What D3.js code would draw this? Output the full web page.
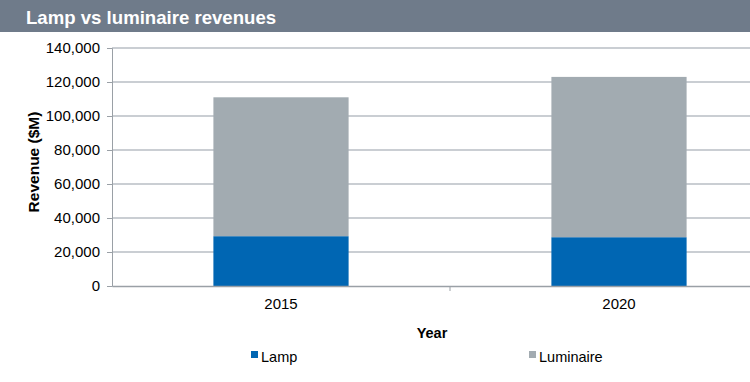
<!DOCTYPE html>
<html><head><meta charset="utf-8">
<script src="https://cdn.jsdelivr.net/npm/d3@7"></script>
<style>
html,body{margin:0;padding:0;background:#fff;}
svg{display:block;font-family:"Liberation Sans",Arial,sans-serif;}
</style></head>
<body><svg id="chart" width="750" height="382"></svg>
<script>
const categories = ["2015", "2020"];
const seriesNames = ["Lamp", "Luminaire"];
const lampValues = [29300, 28700];
const luminaireValues = [81700, 94300];
const yTicks = [0, 20000, 40000, 60000, 80000, 100000, 120000, 140000];
const title = "Lamp vs luminaire revenues";
const colors = ["#0066b3", "#a2abb1"];

(function(){
const svg = d3.select("#chart");
const W = 750, H = 382;
const FF = "'Liberation Sans', Arial, sans-serif";

// header band
svg.append("rect").attr("x",0).attr("y",0).attr("width",W).attr("height",32).attr("fill","#6f7b8a");
svg.append("text").attr("x",26).attr("y",24).attr("fill","#fff").attr("font-family",FF)
  .attr("font-size",18.6).attr("font-weight","bold").text(title);

const mLeft = 112, mRight = 788, mTop = 48, mBottom = 286;
const x = d3.scaleBand().domain(categories).range([mLeft, mRight]).paddingInner(0.6).paddingOuter(0.3);
const y = d3.scaleLinear().domain([0, 140000]).range([mBottom, mTop]);

// gridlines
svg.append("g").selectAll("line").data(yTicks.filter(d=>d>0)).join("line")
  .attr("x1", mLeft).attr("x2", W).attr("y1", d=>y(d)).attr("y2", d=>y(d))
  .attr("stroke", "#b9bec4").attr("stroke-width", 1.5);

// y axis
const yAxis = d3.axisLeft(y).tickValues(yTicks).tickFormat(d3.format(",")).tickSize(5).tickPadding(7);
const gy = svg.append("g").attr("transform", `translate(${mLeft},0)`).call(yAxis);
gy.select(".domain").attr("stroke","#9aa0a6").attr("stroke-width",1);
gy.selectAll(".tick line").attr("stroke","#9aa0a6");
gy.selectAll("text").attr("font-size",15).attr("fill","#000").attr("font-family",FF);

// stacked bars
const table = categories.map((c,i)=>({cat:c, Lamp:lampValues[i], Luminaire:luminaireValues[i]}));
const stack = d3.stack().keys(seriesNames)(table);
svg.append("g").selectAll("g").data(stack).join("g").attr("fill",(d,i)=>colors[i])
  .selectAll("rect").data(d=>d).join("rect")
  .attr("x", d=>x(d.data.cat)).attr("width", x.bandwidth())
  .attr("y", d=>y(d[1])).attr("height", d=>y(d[0])-y(d[1]));

// x axis
const xAxis = d3.axisBottom(x).tickSize(0).tickPadding(12);
const gx = svg.append("g").attr("transform", `translate(0,${mBottom})`).call(xAxis);
gx.select(".domain").attr("stroke","#9aa0a6").attr("stroke-width",1.5);
gx.selectAll("text").attr("font-size",15).attr("fill","#000").attr("font-family",FF);
const mid = (x(categories[0]) + x.bandwidth() + x(categories[1])) / 2;
svg.append("line").attr("x1",mid).attr("x2",mid).attr("y1",mBottom).attr("y2",mBottom+5).attr("stroke","#9aa0a6");

// axis titles
svg.append("text").attr("x", 432).attr("y", 338).attr("text-anchor","middle").attr("font-family",FF)
  .attr("font-size",14.5).attr("font-weight","bold").text("Year");
svg.append("text").attr("transform","translate(39,162) rotate(-90)").attr("text-anchor","middle").attr("font-family",FF)
  .attr("font-size",15.5).attr("font-weight","bold").text("Revenue ($M)");

// legend
const legendX = [251, 529];
const lg = svg.append("g").selectAll("g").data(seriesNames).join("g")
  .attr("transform",(d,i)=>`translate(${legendX[i]},351)`);
lg.append("rect").attr("width",7).attr("height",7).attr("fill",(d,i)=>colors[i]);
lg.append("text").attr("x",10).attr("y",11).attr("font-size",14.5).attr("font-family",FF).text(d=>d);
})();
</script></body></html>
